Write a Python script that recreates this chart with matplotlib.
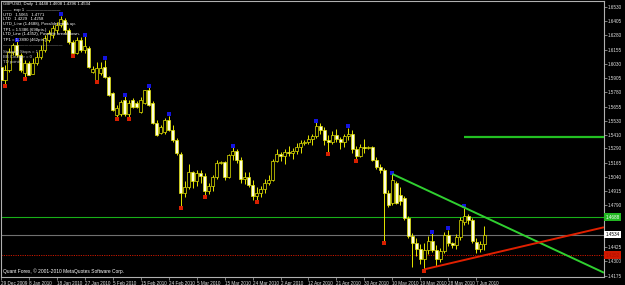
import matplotlib
matplotlib.use("Agg")
import matplotlib.pyplot as plt
import matplotlib.transforms as mtransforms
import numpy as np

# ---------------- data (GBPUSD daily) ----------------
opens = [1.6003, 1.5889, 1.5977, 1.6135, 1.6196, 1.6109, 1.5951, 1.6038, 1.5945, 1.6038,
         1.6091, 1.6153, 1.6240, 1.6284, 1.6328, 1.6372, 1.6416, 1.6328, 1.6223, 1.6126,
         1.6240, 1.6153, 1.6170, 1.5960, 1.5889, 1.5951, 1.6003, 1.5916, 1.5775, 1.5582,
         1.5591, 1.5714, 1.5590, 1.5714, 1.5688, 1.5609, 1.5688, 1.5802, 1.5688, 1.5512,
         1.5425, 1.5433, 1.5539, 1.5451, 1.5363, 1.5240, 1.4900, 1.4950, 1.5080, 1.5000,
         1.5070, 1.5050, 1.4920, 1.4960, 1.5040, 1.5160, 1.5170, 1.5040, 1.5230, 1.5270,
         1.5190, 1.5020, 1.5040, 1.4970, 1.4870, 1.4900, 1.4930, 1.4990, 1.5010, 1.5180,
         1.5240, 1.5220, 1.5260, 1.5250, 1.5270, 1.5300, 1.5340, 1.5350, 1.5370, 1.5400,
         1.5490, 1.5450, 1.5360, 1.5350, 1.5410, 1.5370, 1.5350, 1.5400, 1.5420, 1.5280,
         1.5220, 1.5300, 1.5290, 1.5300, 1.5190, 1.5126, 1.5100, 1.4898, 1.4811, 1.4990,
         1.4880, 1.4855, 1.4679, 1.4520, 1.4460, 1.4410, 1.4320, 1.4400, 1.4480, 1.4400,
         1.4320, 1.4390, 1.4530, 1.4460, 1.4440, 1.4510, 1.4640, 1.4700, 1.4660, 1.4470,
         1.4410, 1.4448]
highs = [1.6047, 1.6021, 1.6170, 1.6215, 1.6231, 1.6126, 1.6065, 1.6056, 1.6082, 1.6135,
         1.6196, 1.6284, 1.6328, 1.6372, 1.6398, 1.6451, 1.6433, 1.6345, 1.6240, 1.6267,
         1.6267, 1.6271, 1.6187, 1.6012, 1.6047, 1.6047, 1.6065, 1.5924, 1.5784, 1.5670,
         1.5714, 1.5749, 1.5714, 1.5732, 1.5705, 1.5740, 1.5805, 1.5825, 1.5705, 1.5539,
         1.5495, 1.5556, 1.5574, 1.5495, 1.5380, 1.5260, 1.5000, 1.5150, 1.5090, 1.5100,
         1.5100, 1.5070, 1.4990, 1.5060, 1.5190, 1.5180, 1.5180, 1.5240, 1.5300, 1.5280,
         1.5210, 1.5080, 1.5080, 1.5010, 1.4950, 1.4960, 1.5020, 1.5060, 1.5200, 1.5280,
         1.5260, 1.5280, 1.5310, 1.5290, 1.5340, 1.5360, 1.5360, 1.5410, 1.5420, 1.5520,
         1.5510, 1.5480, 1.5410, 1.5440, 1.5460, 1.5390, 1.5420, 1.5470, 1.5450, 1.5310,
         1.5330, 1.5370, 1.5310, 1.5310, 1.5214, 1.5153, 1.5118, 1.4925, 1.5065, 1.5000,
         1.4950, 1.4872, 1.4697, 1.4545, 1.4500, 1.4450, 1.4460, 1.4520, 1.4545, 1.4440,
         1.4420, 1.4560, 1.4575, 1.4470, 1.4540, 1.4690, 1.4771, 1.4710, 1.4680, 1.4500,
         1.4480, 1.4608]
lows = [1.5863, 1.5854, 1.5960, 1.6109, 1.6091, 1.5960, 1.5907, 1.5930, 1.5938, 1.6021,
        1.6074, 1.6135, 1.6223, 1.6258, 1.6302, 1.6354, 1.6302, 1.6205, 1.6109, 1.6118,
        1.6135, 1.6126, 1.5995, 1.5951, 1.5881, 1.5933, 1.5907, 1.5749, 1.5618, 1.5556,
        1.5574, 1.5575, 1.5560, 1.5644, 1.5644, 1.5600, 1.5679, 1.5661, 1.5504, 1.5398,
        1.5416, 1.5416, 1.5442, 1.5346, 1.5230, 1.4780, 1.4860, 1.4930, 1.4940, 1.4960,
        1.4990, 1.4880, 1.4890, 1.4920, 1.5020, 1.5150, 1.5010, 1.5030, 1.5190, 1.5160,
        1.4990, 1.4980, 1.4950, 1.4840, 1.4830, 1.4860, 1.4900, 1.4970, 1.5000, 1.5170,
        1.5180, 1.5150, 1.5220, 1.5200, 1.5240, 1.5250, 1.5320, 1.5330, 1.5320, 1.5380,
        1.5420, 1.5320, 1.5250, 1.5330, 1.5350, 1.5280, 1.5300, 1.5360, 1.5250, 1.5190,
        1.5210, 1.5250, 1.5280, 1.5180, 1.5109, 1.5074, 1.4474, 1.4776, 1.4793, 1.4800,
        1.4790, 1.4662, 1.4504, 1.4250, 1.4350, 1.4280, 1.4229, 1.4360, 1.4380, 1.4258,
        1.4290, 1.4370, 1.4430, 1.4420, 1.4410, 1.4490, 1.4620, 1.4630, 1.4460, 1.4370,
        1.4380, 1.4396]
closes = [1.5889, 1.5977, 1.6135, 1.6196, 1.6109, 1.5977, 1.6038, 1.5933, 1.6038, 1.6091,
          1.6153, 1.6258, 1.6302, 1.6345, 1.6372, 1.6424, 1.6328, 1.6223, 1.6126, 1.6240,
          1.6153, 1.6187, 1.6003, 1.5986, 1.5995, 1.5995, 1.5916, 1.5758, 1.5626, 1.5644,
          1.5696, 1.5590, 1.5688, 1.5653, 1.5653, 1.5714, 1.5802, 1.5670, 1.5512, 1.5407,
          1.5477, 1.5539, 1.5451, 1.5363, 1.5245, 1.4900, 1.4950, 1.5080, 1.5000, 1.5070,
          1.5050, 1.4920, 1.4960, 1.5040, 1.5160, 1.5170, 1.5040, 1.5230, 1.5270, 1.5190,
          1.5020, 1.5040, 1.4970, 1.4870, 1.4900, 1.4930, 1.4990, 1.5010, 1.5180, 1.5240,
          1.5220, 1.5260, 1.5250, 1.5270, 1.5300, 1.5340, 1.5350, 1.5370, 1.5400, 1.5490,
          1.5450, 1.5360, 1.5350, 1.5410, 1.5370, 1.5350, 1.5400, 1.5420, 1.5280, 1.5220,
          1.5300, 1.5290, 1.5300, 1.5190, 1.5126, 1.5100, 1.4898, 1.4793, 1.5012, 1.4815,
          1.4830, 1.4679, 1.4521, 1.4460, 1.4410, 1.4320, 1.4400, 1.4480, 1.4400, 1.4320,
          1.4390, 1.4530, 1.4460, 1.4440, 1.4510, 1.4660, 1.4700, 1.4660, 1.4480, 1.4410,
          1.4448, 1.4534]

fractal_up_bars = [4, 15, 21, 26, 31, 37, 42, 58, 79, 87, 98, 108, 112, 116]
fractal_down_bars = [1, 6, 18, 24, 29, 32, 45, 51, 64, 82, 89, 96, 106]

date_labels = ["29 Dec 2009", "8 Jan 2010", "18 Jan 2010", "27 Jan 2010", "5 Feb 2010",
               "15 Feb 2010", "24 Feb 2010", "5 Mar 2010", "15 Mar 2010", "24 Mar 2010",
               "2 Apr 2010", "12 Apr 2010", "21 Apr 2010", "30 Apr 2010", "10 May 2010",
               "19 May 2010", "28 May 2010", "7 Jun 2010"]
date_label_bars = [0, 7, 14, 21, 28, 35, 42, 49, 56, 63, 70, 77, 84, 91, 98, 105, 112, 119]
# price scale labels (the two hidden behind the price boxes are left out)
price_labels = [1.6530, 1.6405, 1.6280, 1.6155, 1.6030, 1.5905, 1.5780, 1.5655, 1.5530,
                1.5410, 1.5290, 1.5165, 1.5040, 1.4915, 1.4790, 1.4425, 1.4300, 1.4175]

# trend lines / levels from the indicator text
utd_points = [(98, 1.5065), (116, 1.4771)]
ltd_points = [(106, 1.4229), (121, 1.4352)]
utd_now = 1.4688
ltd_now = 1.4352
tp_up = 1.5386
tp_up_start = 116
bid = 1.4534

info_lines = ["GBPUSD, Daily  1.4448 1.4608 1.4396 1.4534",
              "——  exp 1  ————————",
              "UTD   1.5065   1.4771",
              "LTD   1.4229   1.4258",
              "UTD_Line (1.4688), Possible break up.",
              "TP1 = 1.5386 (698pts.)",
              "LTD_Line (1.4352), Possible break down.",
              "TP1 = 1.3890 (462pts.)",
              "——————————————",
              "Stepped Stops = 1",
              "BB Counter = 0",
              "TD points"]

# ---------------- drawing ----------------
BG = "black"
FONT = ["Liberation Sans", "DejaVu Sans"]
plt.rcParams["font.family"] = FONT
YEL = "#E6E600"
fig = plt.figure(figsize=(6.25, 2.85), dpi=100, facecolor=BG)
ax = fig.add_axes([0.0016, 0.0281, 0.9648, 0.9684], facecolor=BG)
XMIN, XMAX = 0.25, 151.0
YMIN, YMAX = 1.4162, 1.6582
ax.set_xlim(XMIN, XMAX)
ax.set_ylim(YMIN, YMAX)

n = len(closes)
xs = np.arange(n)
ax.vlines(xs, lows, highs, color=YEL, lw=0.7, zorder=2)
for i in range(n):
    o, c = opens[i], closes[i]
    lo, hi = min(o, c), max(o, c)
    if hi - lo < 0.0004:
        ax.hlines((o + c) / 2, i - 0.4, i + 0.4, color=YEL, lw=0.7, zorder=3)
        continue
    fc = "#FFFFE0" if c < o else "black"
    ax.add_patch(plt.Rectangle((i - 0.38, lo), 0.76, hi - lo, facecolor=fc,
                               edgecolor=YEL, lw=0.5, zorder=3))

# fractal markers
off = 0.0013
ax.scatter(fractal_up_bars, [highs[i] + off for i in fractal_up_bars], marker="s", s=5,
           color="#1414E0", zorder=5, linewidths=0)
ax.scatter(fractal_down_bars, [lows[i] - off for i in fractal_down_bars], marker="s", s=5,
           color="#D82000", zorder=5, linewidths=0)

# horizontal levels
ax.axhline(utd_now, color="#18B018", lw=0.8, zorder=1)
ax.axhline(bid, color="#707070", lw=0.8, zorder=1)
ax.axhline(ltd_now, color="#C81800", lw=0.7, ls=(0, (1.2, 1.2)), zorder=1)
ax.hlines(tp_up, tp_up_start, XMAX, color="#22C022", lw=1.6, zorder=4)

# trend lines (extended to the right edge)
(x1, y1), (x2, y2) = utd_points
ax.plot([x1, XMAX], [y1, y1 + (y2 - y1) / (x2 - x1) * (XMAX - x1)], color="#30D030",
        lw=1.4, zorder=6, solid_capstyle="butt")
(x1, y1), (x2, y2) = ltd_points
ax.plot([x1, XMAX], [y1, y1 + (y2 - y1) / (x2 - x1) * (XMAX - x1)], color="#E02000",
        lw=1.4, zorder=6, solid_capstyle="butt")

# axes / ticks
ax.set_xticks(date_label_bars)
ax.set_xticklabels(date_labels, fontsize=3.3, color="#E0E0E0", ha="left")
shift = mtransforms.ScaledTranslation(1.5 / 100, 0, fig.dpi_scale_trans)
for lab in ax.get_xticklabels():
    lab.set_transform(lab.get_transform() + shift)
ax.yaxis.tick_right()
ax.set_yticks(price_labels)
ax.set_yticklabels([f"{v:.4f}" for v in price_labels], fontsize=3.3, color="#E0E0E0")
ax.tick_params(axis="both", colors="#B0B0B0", length=2, width=0.5, pad=0.8)
ax.tick_params(axis="x", labelcolor="#E0E0E0")
ax.tick_params(axis="y", labelcolor="#E0E0E0")
for s in ax.spines.values():
    s.set_color("#B0B0B0")
    s.set_linewidth(0.8)

# right-side price boxes
def price_box(val, fc, tc):
    ax.text(1.003, val, f"{val:.4f}", transform=ax.get_yaxis_transform(), fontsize=3.3,
            color=tc, va="center", ha="left", zorder=10, clip_on=False,
            bbox=dict(boxstyle="square,pad=0.3", fc=fc, ec="none"))

price_box(utd_now, "#22B822", "white")
price_box(bid, "white", "black")
price_box(ltd_now, "#D01800", "#B01000")

# info text block
for k, line in enumerate(info_lines):
    yk = 4.5 + 5.0 * k + (1.0 if k >= 8 else 0) + (1.0 if k >= 9 else 0)
    col = "#FFFFFF" if k < 8 else "#C8C8C8"
    fig.text(3 / 625, 1 - yk / 285, line, fontsize=3.1, color=col, va="center", ha="left")

ax.text(0.003, 0.012, "Quant Forex, © 2001-2010 MetaQuotes Software Corp.",
        transform=ax.transAxes, fontsize=3.5, color="white", va="bottom", ha="left")

fig.savefig("out.png", dpi=100, facecolor=BG)
